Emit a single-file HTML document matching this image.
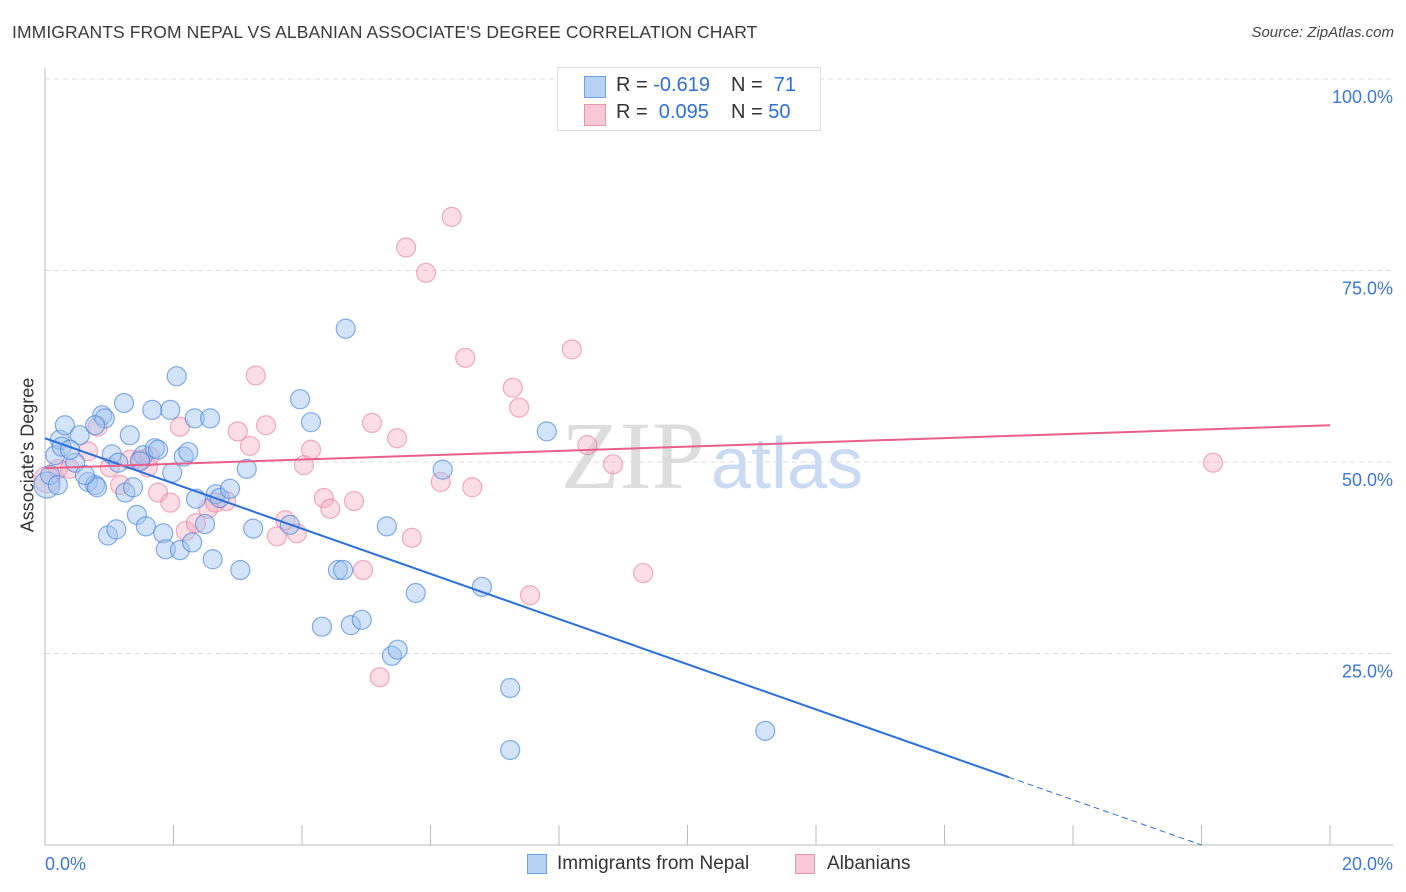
<!DOCTYPE html>
<html><head><meta charset="utf-8"><style>
body{margin:0;background:#fff;font-family:"Liberation Sans",sans-serif;}
#wrap{position:relative;width:1406px;height:892px;overflow:hidden;}
</style></head><body>
<div id="wrap">
<div style="position:absolute;left:12px;top:22px;font-size:17.5px;color:#3a3a3a;letter-spacing:0.1px">IMMIGRANTS FROM NEPAL VS ALBANIAN ASSOCIATE'S DEGREE CORRELATION CHART</div>
<div style="position:absolute;right:12px;top:24px;font-size:15px;color:#444;font-style:italic">Source: ZipAtlas.com</div>
<svg id="svg" width="1406" height="892" style="position:absolute;left:0;top:0">
<text x="712" y="488" text-anchor="middle" font-family="Liberation Serif" font-size="96" fill="#ddd">ZIP<tspan font-family="Liberation Sans" font-size="72" fill="#c9daf2" dx="6">atlas</tspan></text>
</svg>
<div style="position:absolute;left:557px;top:67px;width:262px;height:62px;border:1px solid #ddd;background:#fff;font-size:20px;color:#333">
 <div style="position:absolute;left:26px;top:8px;width:20px;height:20px;background:#b8d2f4;border:1px solid #6d9ee0"></div>
 <div style="position:absolute;left:58px;top:6px">R = <span style="color:#2f6fd6">-0.619</span></div>
 <div style="position:absolute;left:173px;top:6px">N = &nbsp;<span style="color:#2f6fd6">71</span></div>
 <div style="position:absolute;left:26px;top:36px;width:20px;height:20px;background:#f9c8d6;border:1px solid #e894ad"></div>
 <div style="position:absolute;left:58px;top:33px">R = &nbsp;<span style="color:#2f6fd6">0.095</span></div>
 <div style="position:absolute;left:173px;top:33px">N = <span style="color:#2f6fd6">50</span></div>
</div>
<div style="position:absolute;top:853px;left:0;font-size:19px;color:#333">
 <div style="position:absolute;left:527px;top:1px;width:18px;height:18px;background:#b8d2f4;border:1px solid #6d9ee0"></div>
 <div style="position:absolute;left:557px;top:0;white-space:nowrap">Immigrants from Nepal</div>
 <div style="position:absolute;left:795px;top:1px;width:18px;height:18px;background:#f9c8d6;border:1px solid #e894ad"></div>
 <div style="position:absolute;left:827px;top:0">Albanians</div>
</div>
<div style="position:absolute;left:28px;top:455px;transform:translate(-50%,-50%) rotate(-90deg);font-size:18px;color:#333;white-space:nowrap">Associate's Degree</div>
</div>
<script>
const xTicks=[0,20];
const yTicks=[25,50,75,100];
const nepalX=[0.03,0.16,0.23,0.31,0.26,0.47,0.54,0.39,0.67,0.78,0.81,0.89,0.93,0.78,1.04,0.98,1.11,1.14,1.25,1.23,1.32,1.37,1.43,1.53,1.57,1.67,1.71,1.76,1.84,1.88,1.95,1.98,2.05,2.1,2.16,2.23,2.29,2.35,2.33,2.49,2.57,2.61,2.66,2.72,2.88,3.04,3.14,3.24,3.81,3.97,4.14,4.31,4.56,4.64,4.68,4.76,4.93,5.32,5.4,5.49,5.77,6.19,6.8,7.24,7.24,7.81,11.21,0.08,0.2,0.62,1.48];
const nepalY=[47,50.9,52.9,54.8,52,49.9,53.5,51.6,47.4,47,46.7,56.1,55.7,54.8,51,40.4,41.2,49.9,46,57.7,53.5,46.7,43.1,50.9,41.6,56.8,51.8,51.6,40.7,38.6,56.8,48.6,61.2,38.5,50.7,51.3,39.5,45.2,55.7,41.9,55.7,37.3,45.8,45.3,46.5,35.9,49.1,41.3,41.8,58.2,55.2,28.5,35.9,35.9,67.4,28.7,29.4,41.6,24.7,25.5,32.9,49,33.7,20.5,12.4,54,14.9,48.3,47,48.3,50.1];
const albX=[0.03,0.2,0.39,0.67,0.82,1.01,1.17,1.32,1.48,1.6,1.76,1.95,2.1,2.19,2.35,2.54,2.65,2.82,3.0,3.19,3.28,3.44,3.74,3.61,3.92,4.03,4.14,4.34,4.44,4.81,4.95,5.09,5.21,5.48,5.62,5.71,5.93,6.16,6.33,6.54,6.65,7.28,7.38,7.55,8.2,8.44,8.84,9.31,18.18,1.63];
const albY=[47.7,49.1,49.1,51.4,54.6,49.3,47,50.3,50.3,49.3,46,44.7,54.6,41,42,43.9,44.7,44.9,54,52.1,61.3,54.8,42.4,40.3,40.7,49.6,51.6,45.3,43.9,44.9,35.9,55.1,21.9,53.1,78,40.1,74.7,47.4,82,63.6,46.7,59.7,57.1,32.6,64.7,52.2,49.7,35.5,49.9,50.7];
const trendNepal=[53.1,-2.95];
const trendAlb=[49.2,0.28];
const X0=45,X1=1330,Y0=845,Y100=79;
const sx=v=>X0+(v/20)*(X1-X0);
const sy=v=>Y0-(v/100)*(Y0-Y100);
const svg=document.getElementById('svg');
const NS='http://www.w3.org/2000/svg';
function mk(t,a){const e=document.createElementNS(NS,t);for(const k in a)e.setAttribute(k,a[k]);svg.appendChild(e);return e;}
yTicks.forEach(v=>{
 const g=mk('line',{x1:X0,x2:1393,y1:sy(v),y2:sy(v),stroke:'#ddd','stroke-dasharray':'5,4'});
 
 
 const t=mk('text',{x:1393,y:sy(v)+24,'text-anchor':'end','font-size':18,fill:'#3a78d4','font-family':'Liberation Sans'});
 t.textContent=v.toFixed(1)+'%';
 
 
});
let ax=mk('line',{x1:X0,x2:X0,y1:68,y2:Y0,stroke:'#bbb'});


ax=mk('line',{x1:X0,x2:1393,y1:Y0,y2:Y0,stroke:'#bbb'});


for(let i=0;i<=10;i++){
 const tk=mk('line',{x1:sx(i*2),x2:sx(i*2),y1:825,y2:Y0,stroke:'#bbb'});
 
 
}
xTicks.forEach((v,i)=>{
 const t=mk('text',{x:i==0?45:1393,y:870,'text-anchor':i==0?'start':'end','font-size':18,fill:'#3a78d4','font-family':'Liberation Sans'});
 t.textContent=v.toFixed(1)+'%';
 
 
});
albX.forEach((x,i)=>{
 const c=mk('circle',{cx:sx(x),cy:sy(albY[i]),r:i==0?13:9.5,fill:'rgba(246,170,192,0.4)',stroke:'rgba(232,120,155,0.6)','stroke-width':1.2});
 
 
});
nepalX.forEach((x,i)=>{
 const c=mk('circle',{cx:sx(x),cy:sy(nepalY[i]),r:i==0?13:9.5,fill:'rgba(160,195,240,0.45)',stroke:'rgba(70,130,215,0.65)','stroke-width':1.2});
 
 
});
const fN=x=>trendNepal[0]+trendNepal[1]*x;
const fA=x=>trendAlb[0]+trendAlb[1]*x;
let l=mk('line',{x1:sx(0),y1:sy(fN(0)),x2:sx(15),y2:sy(fN(15)),stroke:'#2a6fdb','stroke-width':2});


const xz=-trendNepal[0]/trendNepal[1];
l=mk('line',{x1:sx(15),y1:sy(fN(15)),x2:sx(xz),y2:sy(0),stroke:'#2a6fdb','stroke-width':1,'stroke-dasharray':'6,4'});


l=mk('line',{x1:sx(0),y1:sy(fA(0)),x2:sx(20),y2:sy(fA(20)),stroke:'#e8608a','stroke-width':2});


</script>
</body></html>
